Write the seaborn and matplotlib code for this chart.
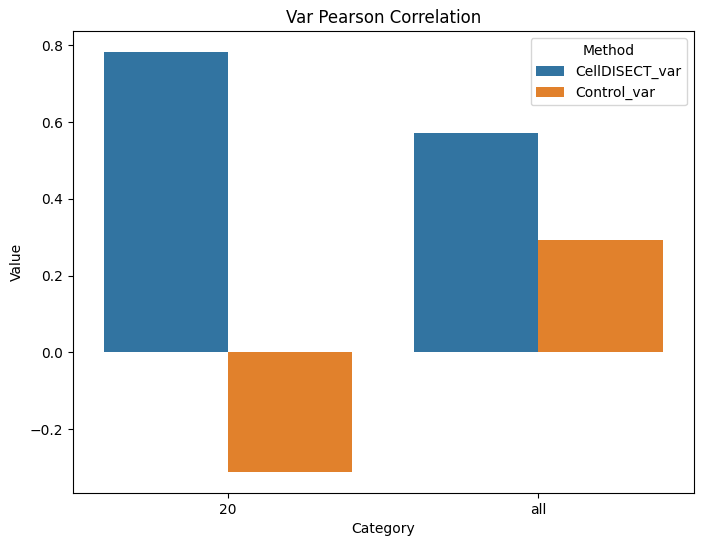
import pandas as pd
import seaborn as sns
import matplotlib.pyplot as plt

# Values
categories = ['20', '20', 'all', 'all']
methods = ['CellDISECT_var', 'Control_var', 'CellDISECT_var', 'Control_var']
values = [0.782, -0.311, 0.571, 0.294]

df = pd.DataFrame({'Category': categories, 'Method': methods, 'Value': values})

fig, ax = plt.subplots(figsize=(7.02, 5.47), dpi=100)
plt.subplots_adjust(left=0.104, right=0.988, top=0.943, bottom=0.099)

sns.barplot(data=df, x='Category', y='Value', hue='Method', ax=ax)
ax.set_title('Var Pearson Correlation')

plt.savefig('out.png')
plt.close()
